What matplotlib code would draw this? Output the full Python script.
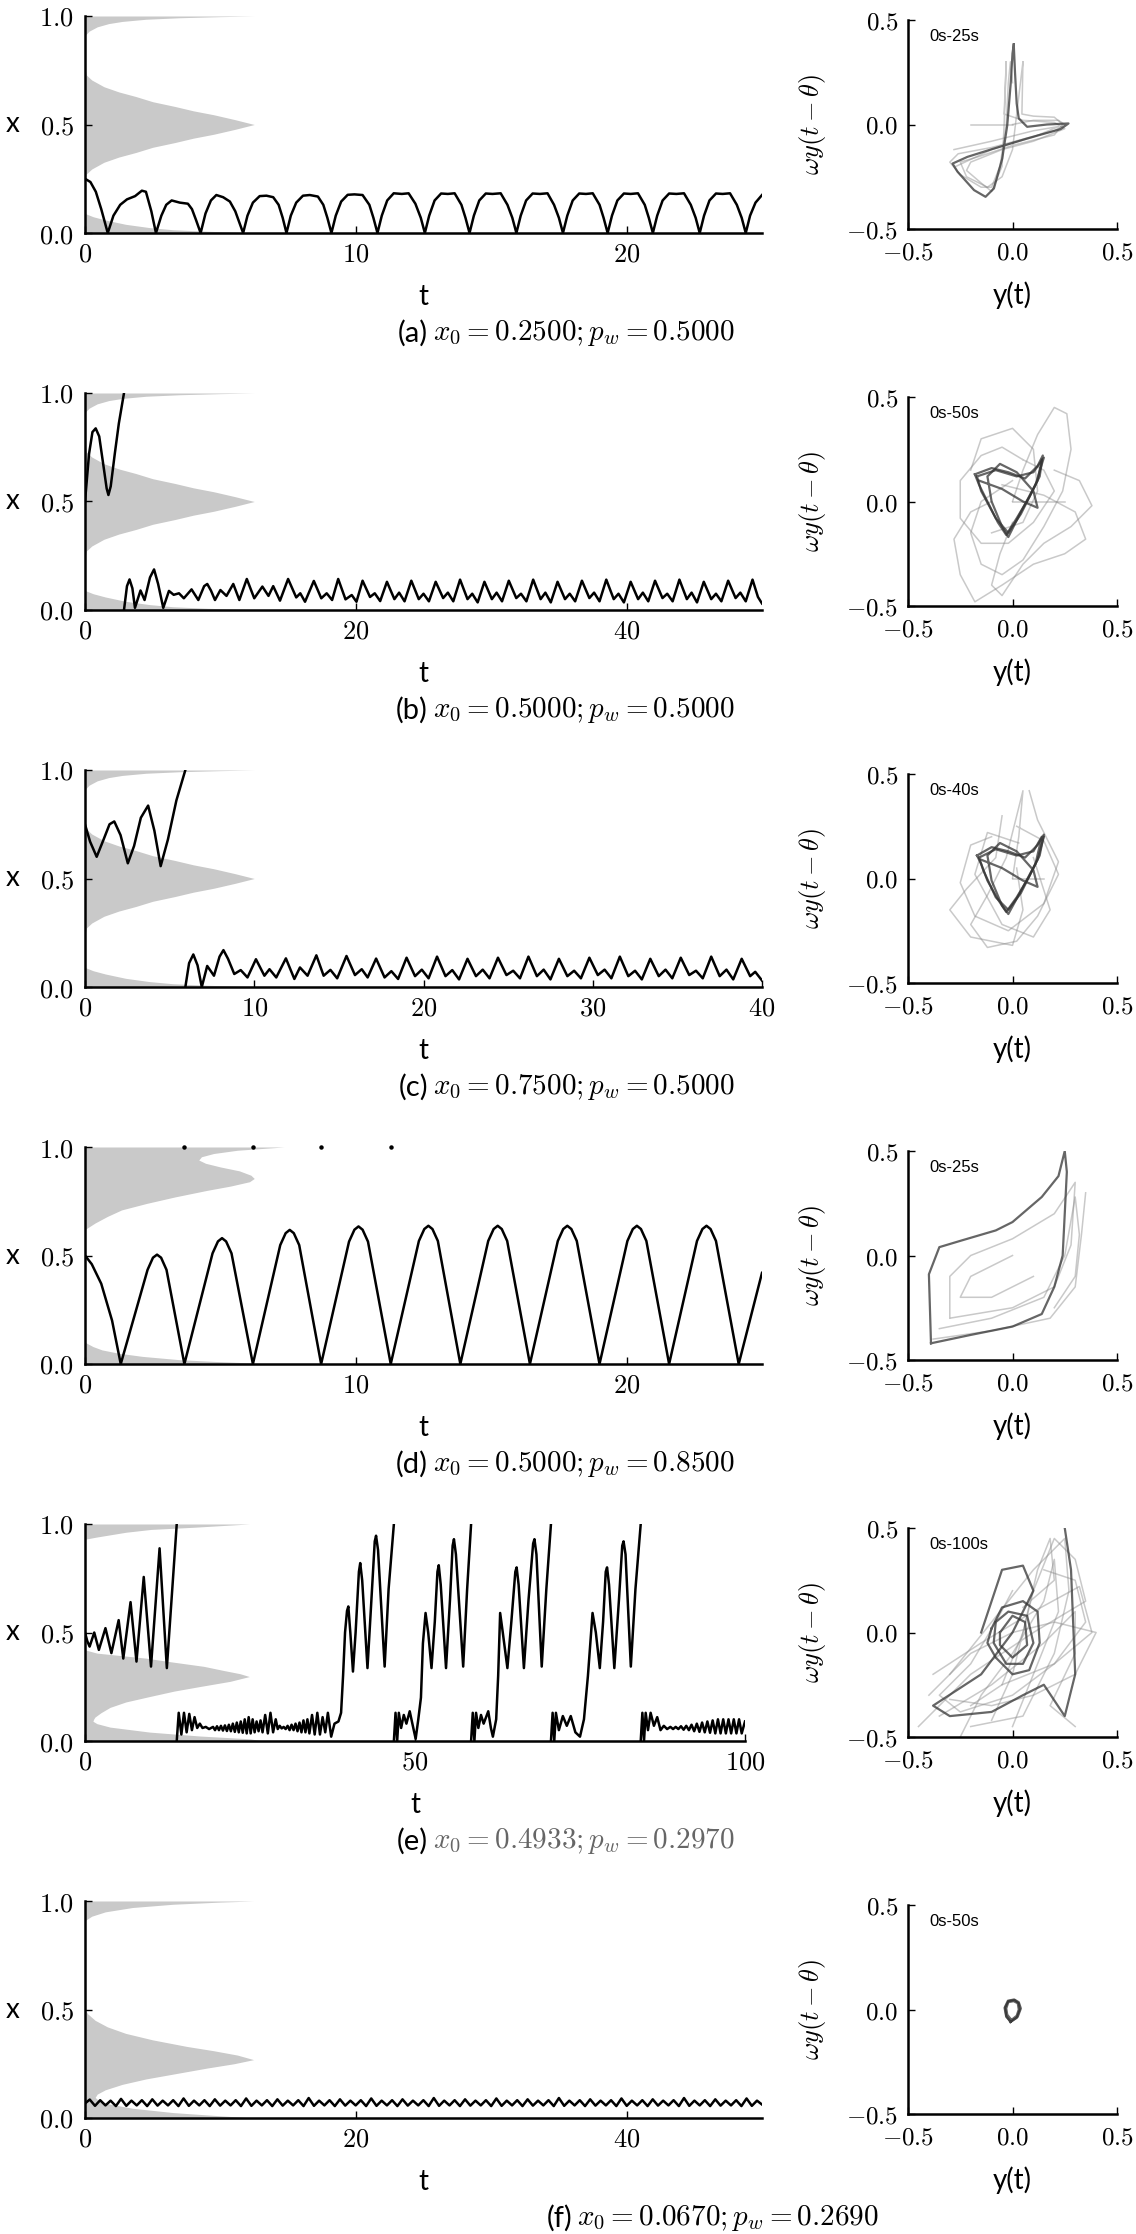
import numpy as np
import matplotlib.pyplot as plt

plt.rcParams['mathtext.fontset'] = 'cm'
plt.rcParams['font.family'] = ['Lato', 'DejaVu Sans']

# ---------------- data ----------------
t_max = [25, 50, 40, 25, 100, 50]
t_ticks = [[0, 10, 20], [0, 20, 40], [0, 10, 20, 30, 40], [0, 10, 20], [0, 50, 100], [0, 20, 40]]
x_ticks = [0.0, 0.5, 1.0]
phase_ticks = [-0.5, 0.0, 0.5]
letters = ['(a)', '(b)', '(c)', '(d)', '(e)', '(f)']
params = [r'$x_0 = 0.2500; p_w = 0.5000$', r'$x_0 = 0.5000; p_w = 0.5000$',
          r'$x_0 = 0.7500; p_w = 0.5000$', r'$x_0 = 0.5000; p_w = 0.8500$',
          r'$x_0 = 0.4933; p_w = 0.2970$', r'$x_0 = 0.0670; p_w = 0.2690$']
windows = ['0s-25s', '0s-50s', '0s-40s', '0s-25s', '0s-100s', '0s-50s']

# grey density profiles: (x level, width as fraction of time axis)
profile_05 = [(0.0, 0.26), (0.003, 0.23), (0.008, 0.18), (0.015, 0.13), (0.025, 0.095), (0.04, 0.06),
              (0.06, 0.03), (0.075, 0.012), (0.09, 0.0), (0.24, 0.0), (0.272, 0.002), (0.295, 0.01),
              (0.326, 0.028), (0.35, 0.05), (0.371, 0.075), (0.395, 0.1), (0.417, 0.133), (0.437, 0.16),
              (0.455, 0.19), (0.478, 0.222), (0.5, 0.25), (0.522, 0.222), (0.545, 0.19), (0.563, 0.16),
              (0.583, 0.133), (0.605, 0.1), (0.629, 0.075), (0.65, 0.05), (0.674, 0.028), (0.705, 0.01),
              (0.728, 0.002), (0.76, 0.0), (0.91, 0.0), (0.93, 0.006), (0.95, 0.018), (0.965, 0.035),
              (0.975, 0.055), (0.985, 0.09), (0.992, 0.14), (0.997, 0.2), (1.0, 0.25)]
profile_085 = [(0.0, 0.27), (0.005, 0.244), (0.012, 0.19), (0.02, 0.139), (0.035, 0.085), (0.05, 0.049),
               (0.065, 0.025), (0.08, 0.012), (0.1, 0.0), (0.62, 0.0), (0.65, 0.015), (0.68, 0.033),
               (0.71, 0.054), (0.74, 0.091), (0.77, 0.133), (0.8, 0.18), (0.82, 0.215), (0.84, 0.243),
               (0.855, 0.25), (0.87, 0.245), (0.89, 0.228), (0.908, 0.2), (0.925, 0.178), (0.94, 0.168),
               (0.955, 0.172), (0.97, 0.19), (0.985, 0.225), (0.995, 0.27), (1.0, 0.294)]
profile_0297 = [(0.0, 0.27), (0.01, 0.25), (0.023, 0.174), (0.041, 0.098), (0.064, 0.038), (0.08, 0.018),
                (0.091, 0.012), (0.1, 0.013), (0.11, 0.015), (0.13, 0.024), (0.155, 0.038), (0.18, 0.062),
                (0.205, 0.098), (0.23, 0.135), (0.251, 0.174), (0.275, 0.22), (0.297, 0.249), (0.31, 0.235),
                (0.325, 0.21), (0.344, 0.18), (0.365, 0.13), (0.382, 0.092), (0.395, 0.05), (0.405, 0.018),
                (0.42, 0.0), (0.93, 0.0), (0.94, 0.018), (0.962, 0.062), (0.975, 0.1), (0.985, 0.165),
                (0.995, 0.22), (1.0, 0.249)]
profile_0269 = [(0.0, 0.25), (0.01, 0.2), (0.025, 0.13), (0.045, 0.07), (0.065, 0.035), (0.08, 0.02),
                (0.095, 0.015), (0.11, 0.018), (0.13, 0.03), (0.155, 0.055), (0.18, 0.09), (0.205, 0.135),
                (0.23, 0.18), (0.25, 0.22), (0.269, 0.249), (0.29, 0.225), (0.31, 0.19), (0.33, 0.15),
                (0.36, 0.1), (0.39, 0.06), (0.42, 0.033), (0.45, 0.015), (0.48, 0.004), (0.5, 0.0),
                (0.91, 0.0), (0.93, 0.01), (0.95, 0.03), (0.97, 0.07), (0.985, 0.13), (0.995, 0.2), (1.0, 0.249)]

# x(t) trajectories, split where x wraps from 1 to 0
series_a = [[(0, 0.25), (0.2, 0.235), (0.4, 0.19), (0.6, 0.11), (0.84, 0.0),
             (1.05, 0.08), (1.3, 0.13), (1.55, 0.155), (1.85, 0.17), (2.1, 0.195), (2.25, 0.19), (2.45, 0.1), (2.62, 0.0),
             (2.82, 0.08), (3.0, 0.13), (3.2, 0.15), (3.5, 0.14), (3.8, 0.135), (3.95, 0.11), (4.1, 0.06), (4.27, 0.0),
             (4.45, 0.09), (4.65, 0.15), (4.85, 0.175), (5.1, 0.165), (5.35, 0.145), (5.55, 0.1), (5.84, 0.0),
             (6.0, 0.08), (6.2, 0.14), (6.45, 0.17), (6.7, 0.172), (6.95, 0.165), (7.15, 0.13), (7.3, 0.07), (7.44, 0.0),
             (7.6, 0.08), (7.8, 0.14), (8.05, 0.172), (8.3, 0.175), (8.6, 0.168), (8.8, 0.13), (8.95, 0.07), (9.1, 0.0),
             (9.26, 0.08), (9.46, 0.145), (9.7, 0.176), (9.95, 0.178), (10.25, 0.175), (10.5, 0.13), (10.65, 0.07), (10.8, 0.0),
             (10.96, 0.08), (11.16, 0.15), (11.4, 0.183), (11.7, 0.18), (11.95, 0.183), (12.2, 0.135), (12.4, 0.07), (12.55, 0.0),
             (12.71, 0.08), (12.91, 0.15), (13.15, 0.182), (13.4, 0.18), (13.65, 0.183), (13.9, 0.13), (14.05, 0.07), (14.2, 0.0),
             (14.36, 0.08), (14.56, 0.15), (14.8, 0.182), (15.05, 0.18), (15.35, 0.183), (15.6, 0.13), (15.78, 0.07), (15.93, 0.0),
             (16.09, 0.08), (16.29, 0.15), (16.53, 0.182), (16.8, 0.18), (17.08, 0.183), (17.32, 0.13), (17.5, 0.07), (17.65, 0.0),
             (17.81, 0.08), (18.01, 0.15), (18.25, 0.182), (18.5, 0.18), (18.75, 0.183), (19.0, 0.13), (19.15, 0.07), (19.3, 0.0),
             (19.46, 0.08), (19.66, 0.15), (19.9, 0.182), (20.15, 0.18), (20.42, 0.183), (20.67, 0.13), (20.82, 0.07), (20.97, 0.0),
             (21.13, 0.08), (21.33, 0.15), (21.57, 0.182), (21.84, 0.18), (22.12, 0.183), (22.37, 0.13), (22.55, 0.07), (22.7, 0.0),
             (22.86, 0.08), (23.06, 0.15), (23.3, 0.182), (23.55, 0.18), (23.82, 0.183), (24.07, 0.13), (24.25, 0.07), (24.4, 0.0),
             (24.56, 0.08), (24.76, 0.14), (25.0, 0.175)]]

series_b = [[(0, 0.5), (0.3, 0.72), (0.55, 0.82), (0.79, 0.837), (1.05, 0.8), (1.35, 0.67), (1.6, 0.56), (1.73, 0.53),
             (1.9, 0.57), (2.2, 0.72), (2.5, 0.86), (2.88, 1.0)],
            [(2.88, 0.0), (3.1, 0.11), (3.29, 0.141), (3.5, 0.1), (3.69, 0.01), (4.1, 0.09), (4.4, 0.046), (4.8, 0.15),
             (5.1, 0.187), (5.4, 0.12), (5.78, 0.01), (6.2, 0.088), (6.55, 0.07), (6.94, 0.077), (7.3, 0.054),
             (7.87, 0.095), (8.37, 0.046), (8.8, 0.11), (9.03, 0.12), (9.3, 0.09), (9.6, 0.046), (10.0, 0.092),
             (10.45, 0.065), (10.95, 0.12), (11.4, 0.046), (11.95, 0.143), (12.5, 0.054), (13.1, 0.108), (13.55, 0.065),
             (13.9, 0.11), (14.4, 0.043), (15.0, 0.143), (15.6, 0.058), (15.9, 0.077), (16.25, 0.038), (16.9, 0.134),
             (17.45, 0.054), (17.85, 0.077), (18.25, 0.046), (18.7, 0.143), (19.24, 0.049), (19.7, 0.069), (20.05, 0.038),
             (20.5, 0.135), (21.05, 0.06), (21.4, 0.077), (21.8, 0.041), (22.3, 0.13), (22.85, 0.05), (23.2, 0.08),
             (23.6, 0.04), (24.1, 0.135), (24.65, 0.05), (25.0, 0.075), (25.4, 0.04), (25.9, 0.13), (26.45, 0.055),
             (26.8, 0.08), (27.2, 0.04), (27.7, 0.14), (28.25, 0.05), (28.6, 0.075), (29.0, 0.035), (29.5, 0.13),
             (30.05, 0.05), (30.4, 0.08), (30.8, 0.04), (31.3, 0.135), (31.85, 0.055), (32.2, 0.075), (32.6, 0.04),
             (33.1, 0.14), (33.65, 0.05), (34.0, 0.08), (34.4, 0.035), (34.9, 0.13), (35.45, 0.05), (35.8, 0.075),
             (36.2, 0.04), (36.7, 0.135), (37.25, 0.055), (37.6, 0.08), (38.0, 0.04), (38.5, 0.14), (39.05, 0.05),
             (39.4, 0.075), (39.8, 0.035), (40.3, 0.13), (40.85, 0.05), (41.2, 0.08), (41.6, 0.04), (42.1, 0.135),
             (42.65, 0.055), (43.0, 0.075), (43.4, 0.04), (43.9, 0.14), (44.45, 0.05), (44.8, 0.08), (45.2, 0.035),
             (45.7, 0.13), (46.25, 0.05), (46.6, 0.075), (47.0, 0.04), (47.5, 0.135), (48.05, 0.055), (48.4, 0.08),
             (48.8, 0.04), (49.3, 0.14), (49.7, 0.06), (50.0, 0.03)]]

series_c = [[(0, 0.749), (0.3, 0.67), (0.69, 0.6), (1.1, 0.68), (1.45, 0.75), (1.73, 0.763), (2.1, 0.7), (2.53, 0.57),
             (2.9, 0.65), (3.3, 0.78), (3.73, 0.836), (4.1, 0.72), (4.47, 0.557), (4.9, 0.68), (5.4, 0.86), (5.93, 1.0)],
            [(5.93, 0.0), (6.15, 0.11), (6.4, 0.15), (6.65, 0.1), (6.9, 0.0), (7.22, 0.097), (7.62, 0.052), (7.95, 0.14),
             (8.18, 0.17), (8.45, 0.13), (8.82, 0.06), (9.2, 0.078), (9.6, 0.044), (10.1, 0.128), (10.6, 0.052),
             (10.9, 0.082), (11.3, 0.044), (11.87, 0.132), (12.37, 0.037), (12.7, 0.09), (13.15, 0.052), (13.67, 0.146),
             (14.1, 0.052), (14.5, 0.079), (14.9, 0.04), (15.45, 0.143), (15.95, 0.055), (16.35, 0.082), (16.7, 0.044),
             (17.2, 0.131), (17.7, 0.044), (18.1, 0.073), (18.5, 0.037), (19.0, 0.135), (19.5, 0.05), (19.9, 0.08),
             (20.3, 0.04), (20.8, 0.14), (21.3, 0.05), (21.7, 0.078), (22.1, 0.035), (22.6, 0.13), (23.1, 0.05),
             (23.5, 0.08), (23.9, 0.04), (24.4, 0.135), (24.9, 0.055), (25.3, 0.075), (25.7, 0.04), (26.2, 0.14),
             (26.7, 0.05), (27.1, 0.08), (27.5, 0.035), (28.0, 0.13), (28.5, 0.05), (28.9, 0.075), (29.3, 0.04),
             (29.8, 0.135), (30.3, 0.055), (30.7, 0.08), (31.1, 0.04), (31.6, 0.14), (32.1, 0.05), (32.5, 0.075),
             (32.9, 0.035), (33.4, 0.13), (33.9, 0.05), (34.3, 0.08), (34.7, 0.04), (35.2, 0.135), (35.7, 0.055),
             (36.1, 0.075), (36.5, 0.04), (37.0, 0.14), (37.5, 0.05), (37.9, 0.08), (38.3, 0.035), (38.8, 0.13),
             (39.3, 0.05), (39.6, 0.07), (40.0, 0.03)]]

series_d = [[(0, 0.5), (0.25, 0.46), (0.6, 0.37), (1.0, 0.2), (1.32, 0.0),
             (2.31, 0.434), (2.51, 0.49), (2.66, 0.504), (2.81, 0.49), (3.01, 0.434), (3.67, 0.0),
             (4.71, 0.51), (4.91, 0.565), (5.06, 0.58), (5.21, 0.565), (5.41, 0.51), (6.2, 0.0),
             (7.21, 0.548), (7.41, 0.603), (7.56, 0.618), (7.71, 0.603), (7.91, 0.548), (8.72, 0.0),
             (9.75, 0.564), (9.95, 0.619), (10.1, 0.634), (10.25, 0.619), (10.45, 0.564), (11.29, 0.0),
             (12.33, 0.567), (12.53, 0.622), (12.68, 0.637), (12.83, 0.622), (13.03, 0.567), (13.86, 0.0),
             (14.89, 0.567), (15.09, 0.622), (15.24, 0.637), (15.39, 0.622), (15.59, 0.567), (16.43, 0.0),
             (17.46, 0.567), (17.66, 0.622), (17.81, 0.637), (17.96, 0.622), (18.16, 0.567), (19.0, 0.0),
             (20.03, 0.567), (20.23, 0.622), (20.38, 0.637), (20.53, 0.622), (20.73, 0.567), (21.57, 0.0),
             (22.6, 0.567), (22.8, 0.622), (22.95, 0.637), (23.1, 0.622), (23.3, 0.567), (24.14, 0.0),
             (25.0, 0.42)]]
dots_d = [(3.67, 1.0), (6.2, 1.0), (8.72, 1.0), (11.29, 1.0)]

series_e = [[(0, 0.5), (0.35, 0.46), (0.7, 0.435), (1.4, 0.5), (2.1, 0.42), (3.1, 0.52), (4.0, 0.405), (5.1, 0.557),
             (5.8, 0.38), (6.9, 0.64), (7.8, 0.366), (8.9, 0.756), (10.0, 0.343), (11.3, 0.888), (12.4, 0.336), (13.9, 1.0)],
            [(13.9, 0.0), (14.2, 0.13), (14.6, 0.03), (15.0, 0.13), (15.4, 0.04), (15.8, 0.125), (16.2, 0.05), (16.6, 0.11),
             (17.0, 0.06), (17.4, 0.08), (17.8, 0.06), (18.3, 0.065), (18.8, 0.055), (19.4, 0.065), (19.7, 0.05),
             (20.0, 0.068), (20.3, 0.05), (20.6, 0.07), (20.9, 0.048), (21.2, 0.072), (21.5, 0.046), (21.8, 0.075),
             (22.1, 0.045), (22.4, 0.08), (22.7, 0.042), (23.0, 0.085), (23.3, 0.04), (23.6, 0.09), (23.9, 0.038),
             (24.2, 0.1), (24.5, 0.035), (24.8, 0.11), (25.1, 0.035), (25.4, 0.1), (25.7, 0.04), (26.0, 0.09),
             (26.3, 0.045), (26.6, 0.095), (26.9, 0.04), (27.3, 0.12), (27.7, 0.035), (28.1, 0.13), (28.5, 0.04),
             (28.9, 0.1), (29.2, 0.055), (29.5, 0.07), (29.8, 0.058), (30.1, 0.065), (30.4, 0.055), (30.7, 0.07),
             (31.0, 0.05), (31.3, 0.075), (31.6, 0.05), (31.9, 0.08), (32.2, 0.045), (32.5, 0.085), (32.8, 0.04),
             (33.1, 0.095), (33.4, 0.04), (33.7, 0.1), (34.0, 0.035), (34.4, 0.12), (34.8, 0.03), (35.2, 0.13),
             (35.6, 0.03), (36.0, 0.11), (36.4, 0.04), (36.8, 0.13), (37.3, 0.02), (37.8, 0.08), (38.4, 0.09),
             (38.8, 0.13), (39.1, 0.3), (39.4, 0.5), (39.7, 0.6), (39.9, 0.62), (40.2, 0.5), (40.6, 0.32),
             (41.0, 0.5), (41.5, 0.78), (41.7, 0.82), (42.0, 0.74), (42.8, 0.336), (43.3, 0.6), (43.9, 0.92),
             (44.1, 0.946), (44.4, 0.88), (45.4, 0.343), (46.0, 0.7), (46.8, 1.0)],
            [(46.8, 0.0), (47.05, 0.13), (47.3, 0.0), (47.55, 0.13), (47.9, 0.06), (48.3, 0.12), (48.7, 0.08),
             (49.2, 0.137), (49.6, 0.08), (50.1, 0.01), (50.5, 0.1), (50.9, 0.2), (51.2, 0.45), (51.6, 0.59),
             (52.0, 0.5), (52.5, 0.336), (53.0, 0.55), (53.4, 0.78), (53.6, 0.81), (53.9, 0.72), (54.7, 0.336),
             (55.3, 0.65), (55.7, 0.9), (55.9, 0.93), (56.2, 0.86), (57.3, 0.343), (57.9, 0.7), (58.5, 1.0)],
            [(58.5, 0.0), (58.75, 0.13), (59.0, 0.0), (59.25, 0.13), (59.6, 0.06), (60.0, 0.12), (60.4, 0.08),
             (61.1, 0.137), (61.5, 0.06), (61.8, 0.02), (62.3, 0.1), (62.6, 0.3), (62.9, 0.59), (63.3, 0.5),
             (64.0, 0.336), (64.6, 0.55), (65.2, 0.78), (65.4, 0.8), (65.7, 0.72), (66.5, 0.336), (67.2, 0.65),
             (67.9, 0.91), (68.1, 0.93), (68.4, 0.86), (69.2, 0.343), (69.9, 0.7), (70.6, 1.0)],
            [(70.6, 0.0), (70.85, 0.13), (71.1, 0.0), (71.35, 0.13), (71.8, 0.05), (72.4, 0.115), (73.0, 0.07),
             (73.6, 0.115), (74.3, 0.04), (75.0, 0.02), (75.6, 0.1), (76.2, 0.3), (76.9, 0.59), (77.4, 0.5),
             (78.0, 0.336), (78.5, 0.55), (78.9, 0.78), (79.1, 0.8), (79.4, 0.72), (80.2, 0.336), (80.9, 0.65),
             (81.4, 0.9), (81.6, 0.92), (81.9, 0.86), (82.7, 0.343), (83.4, 0.7), (84.2, 1.0)],
            [(84.2, 0.0), (84.45, 0.13), (84.7, 0.0), (84.95, 0.13), (85.3, 0.05), (85.7, 0.13), (86.2, 0.07),
             (86.7, 0.11), (87.2, 0.05), (87.7, 0.07), (88.2, 0.055), (88.7, 0.065), (89.1, 0.055), (89.5, 0.065),
             (89.9, 0.055), (90.3, 0.068), (90.7, 0.052), (91.1, 0.07), (91.5, 0.05), (91.9, 0.075), (92.3, 0.045),
             (92.7, 0.08), (93.1, 0.042), (93.5, 0.085), (93.9, 0.04), (94.3, 0.09), (94.7, 0.038), (95.1, 0.095),
             (95.5, 0.035), (95.9, 0.1), (96.3, 0.035), (96.7, 0.1), (97.1, 0.035), (97.5, 0.1), (97.9, 0.035),
             (98.3, 0.1), (98.7, 0.035), (99.1, 0.1), (99.5, 0.035), (100.0, 0.09)]]

series_f = [[(0, 0.067), (0.35, 0.085), (0.74, 0.056), (1.12, 0.082), (1.51, 0.058), (1.89, 0.08), (2.28, 0.055),
             (2.66, 0.088), (3.05, 0.056), (3.43, 0.08), (3.82, 0.058), (4.2, 0.082), (4.59, 0.055), (4.97, 0.086),
             (5.36, 0.057), (5.74, 0.08), (6.13, 0.058), (6.51, 0.082), (6.9, 0.055), (7.28, 0.09), (7.67, 0.056),
             (8.05, 0.08), (8.44, 0.058), (8.82, 0.082), (9.21, 0.055), (9.59, 0.086), (9.98, 0.057), (10.36, 0.08),
             (10.75, 0.058), (11.13, 0.082), (11.52, 0.055), (11.9, 0.09), (12.29, 0.056), (12.67, 0.08),
             (13.06, 0.058), (13.44, 0.082), (13.83, 0.055), (14.21, 0.086), (14.6, 0.057), (14.98, 0.08),
             (15.37, 0.058), (15.75, 0.082), (16.14, 0.055), (16.52, 0.092), (16.91, 0.056), (17.29, 0.08),
             (17.68, 0.058), (18.06, 0.082), (18.45, 0.055), (18.83, 0.086), (19.22, 0.057), (19.6, 0.08),
             (19.99, 0.058), (20.37, 0.082), (20.76, 0.055), (21.14, 0.09), (21.53, 0.056), (21.91, 0.08),
             (22.3, 0.058), (22.68, 0.082), (23.07, 0.055), (23.45, 0.086), (23.84, 0.057), (24.22, 0.08),
             (24.61, 0.058), (24.99, 0.082), (25.38, 0.055), (25.76, 0.092), (26.15, 0.056), (26.53, 0.08),
             (26.92, 0.058), (27.3, 0.082), (27.69, 0.055), (28.07, 0.086), (28.46, 0.057), (28.84, 0.08),
             (29.23, 0.058), (29.61, 0.082), (30.0, 0.055), (30.38, 0.09), (30.77, 0.056), (31.15, 0.08),
             (31.54, 0.058), (31.92, 0.082), (32.31, 0.055), (32.69, 0.086), (33.08, 0.057), (33.46, 0.08),
             (33.85, 0.058), (34.23, 0.082), (34.62, 0.055), (35.0, 0.092), (35.39, 0.056), (35.77, 0.08),
             (36.16, 0.058), (36.54, 0.082), (36.93, 0.055), (37.31, 0.086), (37.7, 0.057), (38.08, 0.08),
             (38.47, 0.058), (38.85, 0.082), (39.24, 0.055), (39.62, 0.09), (40.01, 0.056), (40.39, 0.08),
             (40.78, 0.058), (41.16, 0.082), (41.55, 0.055), (41.93, 0.086), (42.32, 0.057), (42.7, 0.08),
             (43.09, 0.058), (43.47, 0.082), (43.86, 0.055), (44.24, 0.092), (44.63, 0.056), (45.01, 0.08),
             (45.4, 0.058), (45.78, 0.082), (46.17, 0.055), (46.55, 0.086), (46.94, 0.057), (47.32, 0.08),
             (47.71, 0.058), (48.09, 0.082), (48.48, 0.055), (48.86, 0.09), (49.25, 0.056), (49.63, 0.08), (50.0, 0.062)]]

# phase portraits (y(t), w y(t-theta)): dark = late attractor, light = transients
dark_a = [[(0.006, 0.383), (0.012, 0.25), (0.02, 0.1), (0.03, 0.029), (0.07, -0.011), (0.165, 0.0), (0.268, 0.005),
           (0.23, -0.022), (0.07, -0.067), (-0.089, -0.115), (-0.216, -0.155), (-0.287, -0.187), (-0.263, -0.226),
           (-0.184, -0.314), (-0.129, -0.346), (-0.089, -0.306), (-0.049, -0.163), (-0.025, -0.003),
           (-0.008, 0.204), (0.0, 0.34), (0.006, 0.383)]]
light_a = [[(-0.2, 0.0), (0.0, 0.0)],
           [(0.0, 0.0), (0.1, 0.02), (0.22, 0.02), (0.25, 0.0), (0.2, -0.03), (0.05, -0.07), (-0.1, -0.11),
            (-0.26, -0.14), (-0.3, -0.18), (-0.25, -0.24), (-0.15, -0.3), (-0.1, -0.3), (-0.06, -0.2),
            (-0.03, 0.0), (-0.02, 0.2), (-0.01, 0.3), (0.0, 0.2)],
           [(0.05, 0.3), (0.045, 0.05), (0.1, 0.04), (0.2, 0.035), (0.24, 0.0), (0.2, -0.05), (0.0, -0.1),
            (-0.15, -0.15), (-0.25, -0.18), (-0.22, -0.25), (-0.12, -0.3), (-0.05, -0.25), (0.0, -0.12),
            (0.02, 0.05), (0.05, 0.3)],
           [(-0.03, 0.3), (-0.04, 0.05), (0.05, 0.02), (0.2, 0.01), (0.25, -0.02), (0.1, -0.08), (-0.05, -0.12),
            (-0.2, -0.18), (-0.22, -0.22), (-0.15, -0.28), (-0.1, -0.32), (-0.05, -0.2), (-0.04, 0.0), (-0.03, 0.3)],
           [(-0.28, -0.12), (-0.1, -0.08), (0.1, -0.03), (0.22, -0.01), (0.1, -0.06), (-0.1, -0.12), (-0.27, -0.2)]]

dark_b = [[(-0.18, 0.13), (-0.1, 0.16), (-0.02, 0.14), (0.06, 0.11), (0.12, 0.17), (0.145, 0.22), (0.13, 0.12),
           (0.08, 0.02), (0.02, -0.08), (-0.03, -0.16), (-0.07, -0.1), (-0.12, 0.0), (-0.16, 0.08), (-0.18, 0.13)],
          [(-0.16, 0.1), (-0.05, 0.06), (0.05, 0.0), (0.12, -0.03), (0.1, 0.05), (0.02, 0.14), (-0.06, 0.18),
           (-0.12, 0.12), (-0.1, 0.0), (-0.05, -0.12), (-0.02, -0.17), (0.04, -0.05), (0.12, 0.1), (0.14, 0.2)],
          [(-0.17, 0.12), (-0.08, 0.15), (0.02, 0.12), (0.1, 0.14), (0.15, 0.21), (0.11, 0.08), (0.04, -0.06),
           (-0.02, -0.15), (-0.08, -0.08), (-0.15, 0.05), (-0.17, 0.12)]]
light_b = [[(0.0, 0.0), (0.25, 0.0)],
           [(0.0, 0.0), (0.05, 0.15), (0.12, 0.32), (0.2, 0.45), (0.26, 0.42), (0.28, 0.25), (0.24, 0.05),
            (0.15, -0.12), (0.05, -0.28), (-0.05, -0.35), (-0.15, -0.3), (-0.2, -0.15), (-0.15, 0.0), (0.0, 0.1)],
           [(-0.1, 0.0), (-0.2, -0.05), (-0.28, -0.18), (-0.25, -0.35), (-0.18, -0.48), (-0.05, -0.4),
            (0.1, -0.3), (0.25, -0.25), (0.35, -0.18), (0.3, -0.05), (0.15, 0.03), (-0.05, 0.08)],
           [(0.05, 0.2), (-0.05, 0.26), (-0.15, 0.22), (-0.25, 0.1), (-0.25, -0.08), (-0.15, -0.2), (-0.02, -0.2),
            (0.1, -0.1), (0.2, 0.05), (0.15, 0.15), (0.05, 0.2)],
           [(0.0, -0.1), (-0.06, -0.25), (-0.1, -0.4), (-0.05, -0.45), (0.05, -0.3), (0.15, -0.2), (0.28, -0.12),
            (0.38, -0.02), (0.32, 0.1), (0.2, 0.15)],
           [(-0.2, 0.15), (-0.15, 0.3), (0.0, 0.35), (0.1, 0.25), (0.12, 0.05), (0.05, -0.1), (-0.1, -0.15)]]

dark_c = [[(-0.17, 0.11), (-0.1, 0.15), (-0.02, 0.13), (0.06, 0.1), (0.12, 0.16), (0.15, 0.21), (0.13, 0.11),
           (0.08, 0.01), (0.02, -0.09), (-0.03, -0.16), (-0.07, -0.1), (-0.12, -0.01), (-0.15, 0.07), (-0.17, 0.11)],
          [(-0.15, 0.09), (-0.05, 0.05), (0.05, -0.01), (0.12, -0.04), (0.1, 0.04), (0.02, 0.13), (-0.06, 0.17),
           (-0.12, 0.11), (-0.1, -0.01), (-0.05, -0.13), (-0.02, -0.17), (0.04, -0.06), (0.12, 0.09), (0.15, 0.2)],
          [(-0.16, 0.1), (-0.08, 0.14), (0.02, 0.11), (0.1, 0.13), (0.14, 0.2), (0.11, 0.07), (0.04, -0.07),
           (-0.02, -0.15), (-0.08, -0.09), (-0.14, 0.04), (-0.16, 0.1)]]
light_c = [[(0.0, 0.0), (0.15, 0.0)],
           [(0.0, 0.0), (0.03, 0.2), (0.05, 0.42), (0.02, 0.3), (-0.03, 0.1), (-0.12, -0.08), (-0.2, -0.22),
            (-0.12, -0.33), (0.02, -0.3), (0.12, -0.18), (0.22, 0.02), (0.15, 0.18), (0.02, 0.25)],
           [(-0.1, 0.2), (-0.2, 0.16), (-0.25, -0.02), (-0.18, -0.18), (-0.02, -0.25), (0.15, -0.12), (0.22, 0.08),
            (0.12, 0.28), (0.08, 0.42)],
           [(0.1, 0.1), (0.18, -0.15), (0.1, -0.28), (-0.05, -0.22), (-0.18, 0.02), (-0.12, 0.22), (0.03, 0.17)],
           [(-0.05, 0.3), (-0.08, 0.1), (-0.22, -0.05), (-0.3, -0.15), (-0.2, -0.28), (0.0, -0.32), (0.05, -0.15),
            (0.02, 0.05)]]

dark_d = [[(-0.39, -0.42), (-0.2, -0.38), (0.0, -0.34), (0.14, -0.28), (0.2, -0.15), (0.24, 0.0), (0.25, 0.2),
           (0.26, 0.4), (0.25, 0.5), (0.22, 0.38), (0.14, 0.28), (0.0, 0.16), (-0.08, 0.12), (-0.25, 0.07),
           (-0.35, 0.04), (-0.4, -0.09), (-0.39, -0.42)]]
light_d = [[(-0.3, -0.3), (0.0, -0.25), (0.2, -0.15), (0.28, 0.05), (0.3, 0.35), (0.2, 0.2), (0.0, 0.08),
            (-0.2, 0.0), (-0.3, -0.1), (-0.3, -0.3)],
           [(-0.35, -0.35), (-0.1, -0.3), (0.15, -0.2), (0.25, 0.0), (0.3, 0.28), (0.32, 0.1), (0.3, -0.1), (0.2, -0.25)],
           [(-0.38, -0.4), (-0.1, -0.36), (0.18, -0.3), (0.3, -0.15), (0.33, 0.1), (0.35, 0.3)],
           [(0.0, 0.0), (-0.2, -0.1), (-0.25, -0.2), (-0.1, -0.2), (0.1, -0.1)]]

dark_e = [[(-0.1, 0.02), (-0.05, 0.12), (0.05, 0.15), (0.12, 0.1), (0.13, -0.05), (0.08, -0.18), (0.0, -0.2),
           (-0.08, -0.12), (-0.12, -0.05), (-0.1, 0.02)],
          [(-0.08, 0.05), (-0.02, 0.1), (0.07, 0.08), (0.1, -0.05), (0.05, -0.15), (-0.03, -0.15), (-0.09, -0.05),
           (-0.08, 0.05)],
          [(-0.06, 0.0), (0.0, 0.08), (0.06, 0.05), (0.07, -0.06), (0.0, -0.12), (-0.06, -0.06), (-0.06, 0.0)],
          [(-0.15, 0.0), (-0.05, 0.3), (0.05, 0.32), (0.1, 0.2), (0.0, 0.0), (-0.15, -0.2), (-0.38, -0.35),
           (-0.3, -0.4), (-0.1, -0.38), (0.05, -0.3), (0.15, -0.25), (0.25, -0.4), (0.3, -0.2), (0.28, 0.3),
           (0.25, 0.5)]]
light_e = [[(-0.45, -0.45), (-0.2, -0.2), (0.1, 0.0), (0.35, 0.15), (0.3, 0.35), (0.2, 0.45), (0.1, 0.2),
            (0.0, -0.2), (-0.1, -0.42)],
           [(-0.4, -0.3), (-0.2, -0.1), (0.0, 0.0), (0.2, 0.05), (0.4, 0.0), (0.3, -0.2), (0.1, -0.3),
            (-0.1, -0.35), (-0.3, -0.32)],
           [(-0.3, -0.2), (-0.1, 0.05), (0.1, 0.3), (0.25, 0.45), (0.27, 0.2), (0.2, -0.1), (0.05, -0.4),
            (-0.2, -0.45)],
           [(-0.35, -0.4), (-0.1, -0.25), (0.15, -0.05), (0.3, 0.1), (0.3, -0.1), (0.18, -0.35), (0.3, -0.45)],
           [(0.0, 0.2), (-0.08, 0.05), (-0.2, -0.15), (-0.35, -0.3), (-0.25, -0.38), (0.0, -0.3), (0.2, -0.15),
            (0.35, 0.05), (0.3, 0.25), (0.15, 0.3)],
           [(-0.25, -0.5), (-0.15, -0.3), (0.0, -0.1), (0.15, 0.15), (0.2, 0.35), (0.22, 0.1), (0.1, -0.2),
            (0.0, -0.45)],
           [(-0.38, -0.2), (-0.15, -0.05), (0.1, 0.1), (0.32, 0.22), (0.38, 0.0), (0.2, -0.15), (-0.05, -0.25)],
           [(0.05, 0.12), (0.2, 0.25), (0.18, 0.45), (0.12, 0.3), (0.05, 0.0), (-0.05, -0.25), (-0.2, -0.35)]]

dark_f = [[(-0.01, -0.06), (0.02, -0.04), (0.035, 0.0), (0.03, 0.03), (0.01, 0.045), (-0.02, 0.04),
           (-0.035, 0.01), (-0.03, -0.03), (-0.01, -0.06)],
          [(-0.005, -0.05), (0.02, -0.03), (0.03, 0.0), (0.025, 0.03), (0.005, 0.04), (-0.02, 0.035),
           (-0.03, 0.005), (-0.025, -0.025), (-0.005, -0.05)],
          [(-0.008, -0.058), (0.025, -0.035), (0.04, 0.005), (0.03, 0.035), (0.008, 0.048), (-0.022, 0.042),
           (-0.038, 0.008), (-0.03, -0.035), (-0.008, -0.058)]]
light_f = []

profiles = [profile_05, profile_05, profile_05, profile_085, profile_0297, profile_0269]
series = [series_a, series_b, series_c, series_d, series_e, series_f]
darks = [dark_a, dark_b, dark_c, dark_d, dark_e, dark_f]
lights = [light_a, light_b, light_c, light_d, light_e, light_f]

# ---------------- figure ----------------
W, H = 1136, 2234
fig = plt.figure(figsize=(W / 100, H / 100), dpi=100)
grey = '#c9c9c9'


def style(ax, size=19):
    for s in ['top', 'right']:
        ax.spines[s].set_visible(False)
    for s in ['left', 'bottom']:
        ax.spines[s].set_linewidth(1.8)
    ax.tick_params(direction='in', length=5, width=1, top=False, right=False, labelsize=size)


for i in range(6):
    row = 377 * i
    lw_px = 660 if i == 4 else 677
    ax = fig.add_axes([85 / W, 1 - (233 + row) / H, lw_px / W, 217 / H])
    T = t_max[i]
    lev, wid = zip(*profiles[i])
    ax.fill_betweenx(lev, 0, np.array(wid) * T, color=grey, lw=0, zorder=1)
    for seg in series[i]:
        tt, xx = zip(*seg)
        ax.plot(tt, xx, color='black', lw=1.8, zorder=3)
    if i == 3:
        dt, dx = zip(*dots_d)
        ax.plot(dt, dx, 'o', color='black', ms=2.2, zorder=3, clip_on=False)
    ax.set_xlim(0, T)
    ax.set_ylim(0, 1)
    ax.set_xticks(t_ticks[i])
    ax.set_xticklabels([f'${v}$' for v in t_ticks[i]])
    ax.set_yticks(x_ticks)
    ax.set_yticklabels([f'${v:.1f}$' for v in x_ticks])
    style(ax)
    ax.tick_params(axis='y', pad=8)
    ax.tick_params(axis='x', pad=6)
    ax.set_xlabel('t', fontsize=20, va='center')
    ax.xaxis.set_label_coords(0.5, -(297 - 233) / 217)
    ax.set_ylabel('x', fontsize=20, rotation=0, va='center', ha='center')
    ax.yaxis.set_label_coords(-(85 - 13) / lw_px, 0.5)

    # phase portrait
    pa = fig.add_axes([908 / W, 1 - (229 + row) / H, 209 / W, 209 / H])
    for path in lights[i]:
        py, pw = zip(*path)
        pa.plot(py, pw, color='#888888', alpha=0.45, lw=1.1)
    for path in darks[i]:
        py, pw = zip(*path)
        pa.plot(py, pw, color='#333333', alpha=0.75, lw=1.6)
    pa.set_xlim(-0.5, 0.5)
    pa.set_ylim(-0.5, 0.5)
    pa.set_xticks(phase_ticks)
    pa.set_xticklabels([f'${v:.1f}$' for v in phase_ticks])
    pa.set_yticks(phase_ticks)
    pa.set_yticklabels([f'${v:.1f}$' for v in phase_ticks])
    style(pa, size=18)
    pa.tick_params(axis='y', pad=7)
    pa.tick_params(axis='x', pad=8)
    pa.set_xlabel('y(t)', fontsize=20, va='center')
    pa.xaxis.set_label_coords(0.5, -(295 - 229) / 209)
    pa.set_ylabel(r'$\omega y(t-\theta)$', fontsize=19, va='center')
    pa.yaxis.set_label_coords(-(908 - 813) / 209, 0.5)
    pa.text(0.1, 0.92, windows[i], transform=pa.transAxes, fontsize=12,
            family=['Liberation Sans', 'DejaVu Sans'], va='center', ha='left')

    # caption
    cy = 1 - (333 + row) / H
    shift = 144 if i == 5 else 0
    fig.text((428 + shift) / W, cy, letters[i], fontsize=21, ha='right', va='center')
    fig.text((433 + shift) / W, cy, params[i], fontsize=21, ha='left', va='center',
             color='#666666' if i == 4 else 'black')

fig.savefig('out.png', dpi=100)
